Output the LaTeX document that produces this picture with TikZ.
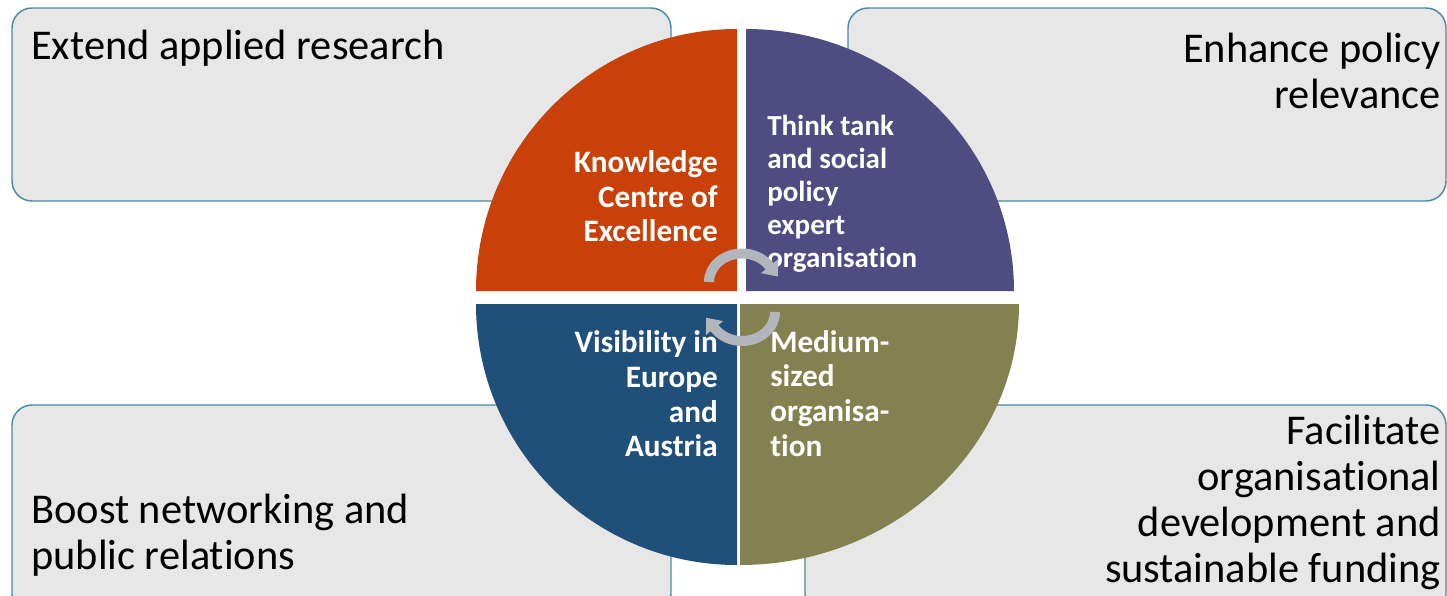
\documentclass[tikz,border=0pt]{standalone}
\usepackage{fontspec}
\setmainfont{Carlito}[Ligatures=NoCommon]
\usetikzlibrary{arrows.meta}
\definecolor{boxfill}{HTML}{E7E7E7}
\definecolor{boxline}{HTML}{468CA5}
\definecolor{qorange}{HTML}{C94109}
\definecolor{qpurple}{HTML}{4E4C81}
\definecolor{qblue}{HTML}{205079}
\definecolor{qolive}{HTML}{848150}
\definecolor{arrowgrey}{HTML}{B2B5BC}
\begin{document}
\begin{tikzpicture}[x=0.75pt,y=-0.75pt,
  goal/.style={draw=boxline, fill=boxfill, line width=1.1pt, rounded corners=15pt},
  goaltext/.style={inner sep=0pt, font=\fontsize{31.8}{34.5}\selectfont, text=black},
  quadtext/.style={inner sep=0pt, text=white, font=\bfseries\fontsize{23.4}{26}\selectfont},
  quadsmall/.style={inner sep=0pt, text=white, font=\bfseries\fontsize{21.75}{24.6}\selectfont},
  cyc/.style={draw=arrowgrey, line width=7.5pt, -{Triangle[width=16pt,length=10pt]}}
]
\useasboundingbox (0,0) rectangle (1447,596);
\clip (0,0) rectangle (1447,596);
% goal boxes
\draw[goal] (12,8) rectangle (671,201);
\draw[goal] (848,8) rectangle (1446,201);
\draw[goal] (12,405) rectangle (671,615);
\draw[goal] (805,405) rectangle (1446,615);
% (base anchor = baseline of the last line)
\node[goaltext, anchor=base west] (t1) at (31,59) {Extend applied research};
\node[goaltext, anchor=base east, align=right] (t2) at (1441,108) {Enhance policy\\relevance};
\node[goaltext, anchor=base west, align=left] (t3) at (31,569) {Boost networking and\\public relations};
\node[goaltext, anchor=base east, align=right] (t4) at (1441,582) {Facilitate\\organisational\\development and\\sustainable funding};
% quadrants
\fill[qorange] (737,291) -- (476,291) arc[start angle=180,end angle=270,x radius=261,y radius=262] -- cycle;
\fill[qpurple] (746,291) -- (746,29) arc[start angle=270,end angle=360,x radius=268,y radius=262] -- cycle;
\fill[qblue] (737,304) -- (737,565) arc[start angle=90,end angle=180,x radius=261,y radius=261] -- cycle;
\fill[qolive] (740,304) -- (1019,304) arc[start angle=0,end angle=90,x radius=279,y radius=261] -- cycle;
\node[quadtext, anchor=base east, align=right] (q1) at (718,241.7) {Knowledge\\Centre of\\Excellence};
\node[quadsmall, anchor=base west, align=left] (q2) at (767,267) {Think tank\\and social\\policy\\expert\\organisation};
\node[quadtext, anchor=base east, align=right] (q3) at (718,456.7) {Visibility in\\Europe\\and\\Austria};
\node[quadtext, anchor=base west, align=left] (q4) at (770,456) {Medium-\\sized\\organisa-\\tion};
% cycle arrows
\coordinate (a1) at (709,282);
\coordinate (a2) at (775,312);
\draw[cyc] (a1) arc[start angle=180,end angle=325,x radius=33,y radius=28.5] -- ++(8.8,10.9);
\draw[cyc] (a2) arc[start angle=0,end angle=145,x radius=33,y radius=29] -- ++(-8.8,-10.9);
\end{tikzpicture}
\end{document}
